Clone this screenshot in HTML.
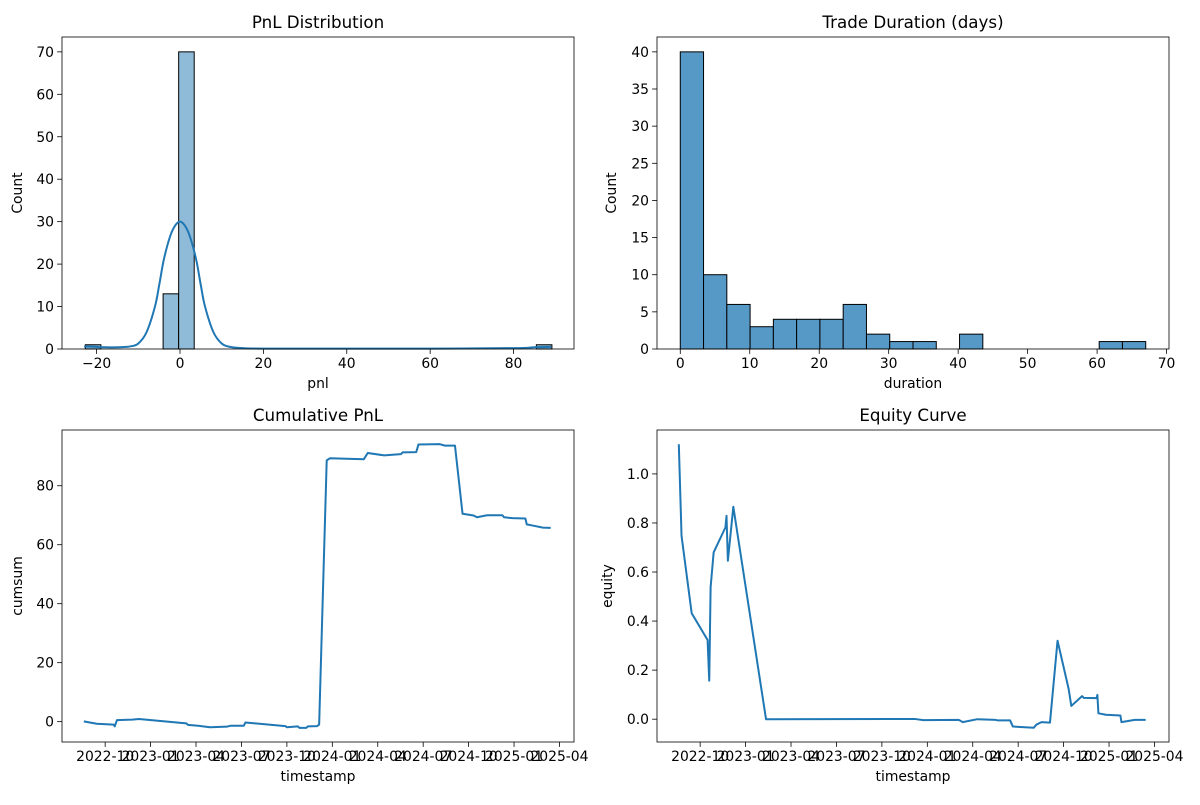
<!DOCTYPE html>
<html><head><meta charset="utf-8"><style>
body{margin:0;background:#fff}
svg text{font-family:"DejaVu Sans","Liberation Sans",sans-serif;fill:#000}
</style></head><body>
<svg id="fig" width="1200" height="800" xmlns="http://www.w3.org/2000/svg"></svg>
<script>
// ---- data ----
const pnlBinStart = -22.7, pnlBinWidth = 3.73;
const pnlCounts = [1,0,0,0,0,13,70,0,0,0,0,0,0,0,0,0,0,0,0,0,0,0,0,0,0,0,0,0,0,1];
const kdeX = [-23,-20,-18,-15,-12,-10,-8,-6,-5,-4,-3,-2,-1,0,1,2,3,4,5,6,8,10,12,15,20,40,60,80,85,89];
const kdeY = [0.6,0.5,0.4,0.4,0.6,1.3,4,10,15,20.5,24.5,27.5,29.3,30,29.3,27.5,24.5,20.5,15,10,4,1.3,0.5,0.2,0.1,0.1,0.1,0.2,0.4,0.5];
const pnlTicks = [-20,0,20,40,60,80];
const countTicks1 = [0,10,20,30,40,50,60,70];
const durBinStart = 0, durBinWidth = 3.35;
const durCounts = [40,10,6,3,4,4,4,6,2,1,1,0,2,0,0,0,0,0,1,1];
const durTicks = [0,10,20,30,40,50,60,70];
const countTicks2 = [0,5,10,15,20,25,30,35,40];
// months since 2022-10-01
const dateTicks = [0,3,6,9,12,15,18,21,24,27,30];
const dateLabels = ["2022-10","2023-01","2023-04","2023-07","2023-10","2024-01","2024-04","2024-07","2024-10","2025-01","2025-04"];
const cumMonths = [-1.41,-0.56,0.56,0.63,0.78,1.79,2.23,5.36,5.47,6.14,6.92,8.04,8.26,9.15,9.26,11.9,12.0,12.72,12.83,13.28,13.39,14.0,14.13,14.63,14.84,17.08,17.34,18.42,19.53,19.64,20.54,20.69,22.1,22.43,23.1,23.6,24.33,24.55,25.22,26.23,26.34,26.9,27.75,27.84,28.24,28.9,29.42];
const cumValues = [0.1,-0.7,-1.0,-1.6,0.5,0.7,0.9,-0.6,-1.1,-1.4,-1.9,-1.7,-1.4,-1.4,-0.3,-1.5,-1.9,-1.6,-2.1,-2.1,-1.6,-1.5,-1.0,88.6,89.3,89.0,91.1,90.3,90.7,91.3,91.4,94.0,94.1,93.6,93.6,70.5,69.9,69.3,70.0,70.0,69.3,69.0,68.9,66.9,66.5,65.8,65.7];
const cumTicks = [0,20,40,60,80];
const eqMonths = [-1.41,-1.23,-0.56,0.49,0.6,0.69,0.89,1.67,1.74,1.83,2.19,4.35,14.17,14.73,17.08,17.34,18.3,19.53,19.64,20.47,20.65,22.03,22.21,22.54,23.1,23.6,24.33,24.51,25.22,25.33,26.18,26.23,26.3,26.79,27.75,27.82,28.69,29.42];
const eqValues = [1.121,0.748,0.432,0.323,0.157,0.538,0.680,0.782,0.829,0.646,0.866,0.0,0.001,-0.004,-0.003,-0.012,0.0,-0.003,-0.005,-0.005,-0.03,-0.035,-0.022,-0.012,-0.014,0.32,0.124,0.054,0.094,0.087,0.086,0.099,0.024,0.018,0.015,-0.012,-0.003,-0.003];
const eqTicks = [0.0,0.2,0.4,0.6,0.8,1.0];

const NS="http://www.w3.org/2000/svg";
const svg=document.getElementById('fig');
function mk(tag,attrs,parent){const e=document.createElementNS(NS,tag);for(const k in attrs)e.setAttribute(k,attrs[k]);(parent||svg).appendChild(e);return e;}
function scale(d0,d1,r0,r1){return v=>r0+(v-d0)/(d1-d0)*(r1-r0);}

function axes(name,L,T,R,B,xs,ys,xt,xl,yt,yl,title,xlabel,ylabel,ylx){
  const g=mk('g',{});
  
  
  const t=mk('text',{x:(L+R)/2,y:T-9,'text-anchor':'middle','font-size':'16.7'},g);
  t.textContent=title;
  
  
  xt.forEach((v,i)=>{const x=xs(v);
    const tk=mk('line',{x1:x,x2:x,y1:B,y2:B+4.9,stroke:'#000','stroke-width':0.8},g);
    
    
    const lb=mk('text',{x:x,y:B+19,'text-anchor':'middle','font-size':'13.9'},g);
    lb.textContent=xl[i];
    
    });
  yt.forEach((v,i)=>{const y=ys(v);
    const tk=mk('line',{x1:L-4.9,x2:L,y1:y,y2:y,stroke:'#000','stroke-width':0.8},g);
    
    
    const lb=mk('text',{x:L-8,y:y+5,'text-anchor':'end','font-size':'13.9'},g);
    lb.textContent=yl[i];
    
    });
  const xa=mk('text',{x:(L+R)/2,y:B+39,'text-anchor':'middle','font-size':'13.9'},g);
  xa.textContent=xlabel;
  
  
  const ya=mk('text',{x:ylx,y:(T+B)/2,'text-anchor':'middle','font-size':'13.9',transform:`rotate(-90 ${ylx} ${(T+B)/2})`},g);
  ya.textContent=ylabel;
  
  
  return g;
}
function frame(g,L,T,R,B){const f=mk('rect',{x:L,y:T,width:R-L,height:B-T,fill:'none',stroke:'#000','stroke-width':0.8},g);
  
  }
function line(g,xs,ys,X,Y,name){const p=mk('polyline',{points:X.map((v,i)=>xs(v).toFixed(2)+','+ys(Y[i]).toFixed(2)).join(' '),fill:'none',stroke:'#1f77b4','stroke-width':2,'stroke-linejoin':'round'},g);
  
  }
function smooth(g,xs,ys,X,Y,name){
  const P=X.map((v,i)=>[xs(v),ys(Y[i])]);
  let d='M'+P[0][0].toFixed(2)+','+P[0][1].toFixed(2);
  for(let i=0;i<P.length-1;i++){
    const p0=P[Math.max(0,i-1)],p1=P[i],p2=P[i+1],p3=P[Math.min(P.length-1,i+2)];
    const c1=[p1[0]+(p2[0]-p0[0])/6,p1[1]+(p2[1]-p0[1])/6];
    const c2=[p2[0]-(p3[0]-p1[0])/6,p2[1]-(p3[1]-p1[1])/6];
    d+=` C${c1[0].toFixed(2)},${c1[1].toFixed(2)} ${c2[0].toFixed(2)},${c2[1].toFixed(2)} ${p2[0].toFixed(2)},${p2[1].toFixed(2)}`;
  }
  const p=mk('path',{d:d,fill:'none',stroke:'#1f77b4','stroke-width':2},g);
  
  }

// Panel 1
{const L=62,T=37,R=574,B=349;
 const xs=scale(-28.3,94.5,L,R), ys=scale(0,73.5,B,T);
 const g=axes('pnl-distribution-panel',L,T,R,B,xs,ys,pnlTicks,pnlTicks.map(v=>v<0?'\u2212'+(-v):String(v)),countTicks1,countTicks1.map(String),'PnL Distribution','pnl','Count',22);
 pnlCounts.forEach((c,i)=>{if(!c)return;const x0=xs(pnlBinStart+i*pnlBinWidth),x1=xs(pnlBinStart+(i+1)*pnlBinWidth);
   const r=mk('rect',{x:x0,y:ys(c),width:x1-x0,height:B-ys(c),fill:'#8fbbd9',stroke:'#000','stroke-width':1},g);
   
   });
 smooth(g,xs,ys,kdeX,kdeY,'pnl-kde-curve');
 frame(g,L,T,R,B);}
// Panel 2
{const L=657,T=37,R=1169,B=349;
 const xs=scale(-3.35,70.35,L,R), ys=scale(0,42,B,T);
 const g=axes('duration-panel',L,T,R,B,xs,ys,durTicks,durTicks.map(String),countTicks2,countTicks2.map(String),'Trade Duration (days)','duration','Count',616);
 durCounts.forEach((c,i)=>{if(!c)return;const x0=xs(durBinStart+i*durBinWidth),x1=xs(durBinStart+(i+1)*durBinWidth);
   const r=mk('rect',{x:x0,y:ys(c),width:x1-x0,height:B-ys(c),fill:'#5799c6',stroke:'#000','stroke-width':1},g);
   
   });
 frame(g,L,T,R,B);}
// Panel 3
{const L=62,T=430,R=574,B=742;
 const xs=scale(-2.85,30.96,L,R), ys=scale(-6.9,98.9,B,T);
 const g=axes('cumulative-pnl-panel',L,T,R,B,xs,ys,dateTicks,dateLabels,cumTicks,cumTicks.map(String),'Cumulative PnL','timestamp','cumsum',22);
 line(g,xs,ys,cumMonths,cumValues,'cumsum-line');
 frame(g,L,T,R,B);}
// Panel 4
{const L=657,T=430,R=1169,B=742;
 const xs=scale(-2.85,30.96,L,R), ys=scale(-0.093,1.179,B,T);
 const g=axes('equity-curve-panel',L,T,R,B,xs,ys,dateTicks,dateLabels,eqTicks,eqTicks.map(v=>v.toFixed(1)),'Equity Curve','timestamp','equity',612);
 line(g,xs,ys,eqMonths,eqValues,'equity-line');
 frame(g,L,T,R,B);}
</script>
</body></html>
